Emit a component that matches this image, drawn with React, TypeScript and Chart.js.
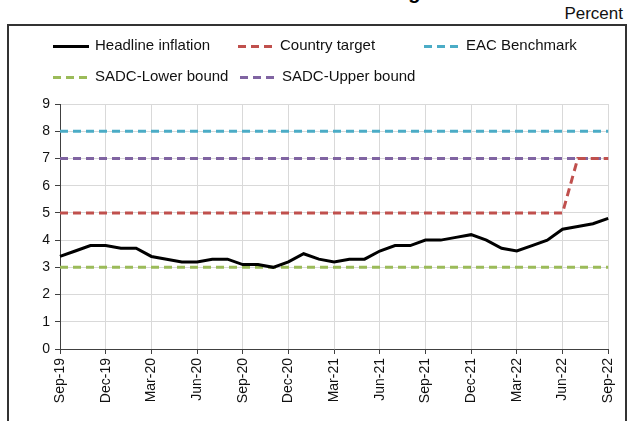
import React, { useEffect, useRef } from "react";
import { Chart, registerables } from "chart.js";

Chart.register(...registerables);

const months = [
  "Sep-19", "Oct-19", "Nov-19", "Dec-19", "Jan-20", "Feb-20", "Mar-20", "Apr-20", "May-20",
  "Jun-20", "Jul-20", "Aug-20", "Sep-20", "Oct-20", "Nov-20", "Dec-20", "Jan-21", "Feb-21",
  "Mar-21", "Apr-21", "May-21", "Jun-21", "Jul-21", "Aug-21", "Sep-21", "Oct-21", "Nov-21",
  "Dec-21", "Jan-22", "Feb-22", "Mar-22", "Apr-22", "May-22", "Jun-22", "Jul-22", "Aug-22", "Sep-22",
];

const headlineInflation = [
  3.4, 3.6, 3.8, 3.8, 3.7, 3.7, 3.4, 3.3, 3.2,
  3.2, 3.3, 3.3, 3.1, 3.1, 3.0, 3.2, 3.5, 3.3,
  3.2, 3.3, 3.3, 3.6, 3.8, 3.8, 4.0, 4.0, 4.1,
  4.2, 4.0, 3.7, 3.6, 3.8, 4.0, 4.4, 4.5, 4.6, 4.8,
];

const countryTarget = [
  5, 5, 5, 5, 5, 5, 5, 5, 5,
  5, 5, 5, 5, 5, 5, 5, 5, 5,
  5, 5, 5, 5, 5, 5, 5, 5, 5,
  5, 5, 5, 5, 5, 5, 5, 7, 7, 7,
];

const eacBenchmark = [
  8, 8, 8, 8, 8, 8, 8, 8, 8,
  8, 8, 8, 8, 8, 8, 8, 8, 8,
  8, 8, 8, 8, 8, 8, 8, 8, 8,
  8, 8, 8, 8, 8, 8, 8, 8, 8, 8,
];

const sadcLower = [
  3, 3, 3, 3, 3, 3, 3, 3, 3,
  3, 3, 3, 3, 3, 3, 3, 3, 3,
  3, 3, 3, 3, 3, 3, 3, 3, 3,
  3, 3, 3, 3, 3, 3, 3, 3, 3, 3,
];

const sadcUpper = [
  7, 7, 7, 7, 7, 7, 7, 7, 7,
  7, 7, 7, 7, 7, 7, 7, 7, 7,
  7, 7, 7, 7, 7, 7, 7, 7, 7,
  7, 7, 7, 7, 7, 7, 7, 7, 7, 7,
];

const seriesNames = [
  "Headline inflation",
  "Country target",
  "EAC Benchmark",
  "SADC-Lower bound",
  "SADC-Upper bound",
];

const yMin = 0;
const yMax = 9;

const FONT = "'Liberation Sans', Arial, Helvetica, sans-serif";

// Legend slots (grid layout like the original)
const legendSlots = [
  { x: 53, y: 46 },
  { x: 238, y: 46 },
  { x: 424, y: 46 },
  { x: 53, y: 77 },
  { x: 240, y: 77 },
];

const gridLegendPlugin = {
  id: "gridLegend",
  afterDraw(chart: any) {
    const ctx = chart.ctx;
    ctx.save();
    chart.data.datasets.forEach((ds: any, i: number) => {
      const slot = legendSlots[i];
      if (!slot) return;
      ctx.beginPath();
      ctx.lineWidth = ds.borderWidth;
      ctx.strokeStyle = ds.borderColor;
      ctx.setLineDash(ds.borderDash || []);
      ctx.lineCap = "butt";
      ctx.moveTo(slot.x, slot.y + 0.5);
      ctx.lineTo(slot.x + 36, slot.y + 0.5);
      ctx.stroke();
      ctx.setLineDash([]);
      ctx.fillStyle = "#111";
      ctx.font = `15px ${FONT}`;
      ctx.textBaseline = "middle";
      ctx.textAlign = "left";
      ctx.fillText(ds.label, slot.x + 42, slot.y);
    });
    ctx.restore();
  },
};

export default function App() {
  const canvasRef = useRef<HTMLCanvasElement | null>(null);

  useEffect(() => {
    if (!canvasRef.current) return;
    const dash = [8, 5];
    const chart = new Chart(canvasRef.current, {
      type: "line",
      data: {
        labels: months,
        datasets: [
          { label: seriesNames[0], data: headlineInflation, borderColor: "#000000", borderWidth: 3, borderDash: [] },
          { label: seriesNames[1], data: countryTarget, borderColor: "#C0504D", borderWidth: 3, borderDash: dash },
          { label: seriesNames[2], data: eacBenchmark, borderColor: "#4BACC6", borderWidth: 3, borderDash: dash },
          { label: seriesNames[3], data: sadcLower, borderColor: "#9BBB59", borderWidth: 3, borderDash: dash },
          { label: seriesNames[4], data: sadcUpper, borderColor: "#8064A2", borderWidth: 3, borderDash: dash },
        ].map((d) => ({ ...d, pointRadius: 0, pointHoverRadius: 0, tension: 0, fill: false, backgroundColor: d.borderColor })),
      },
      options: {
        responsive: false,
        animation: false,
        events: [],
        layout: { padding: { top: 104, left: 8, right: 17, bottom: 0 } },
        plugins: {
          legend: { display: false },
          tooltip: { enabled: false },
          title: { display: false },
        },
        scales: {
          x: {
            type: "category",
            offset: false,
            grid: { color: "#d9d9d9", lineWidth: 1, tickLength: 5, tickColor: "#404040", drawTicks: true },
            border: { color: "#404040", width: 1 },
            ticks: {
              autoSkip: false,
              maxRotation: 90,
              minRotation: 90,
              padding: 4,
              color: "#111",
              font: { family: FONT, size: 14 },
              callback: (_v: any, i: number) => (i % 3 === 0 ? months[i] : null),
            },
            afterFit: (s: any) => {
              s.height = 72;
            },
          },
          y: {
            min: yMin,
            max: yMax,
            grid: { color: "#d9d9d9", lineWidth: 1, tickLength: 5, tickColor: "#404040" },
            border: { color: "#404040", width: 1 },
            ticks: {
              stepSize: 1,
              padding: 5,
              color: "#111",
              font: { family: FONT, size: 14 },
            },
            afterFit: (s: any) => {
              s.width = 52;
            },
          },
        },
      },
      plugins: [gridLegendPlugin],
    } as any);
    return () => chart.destroy();
  }, []);

  return (
    <div style={{ position: "absolute", left: 0, top: 0, width: 629, height: 421, overflow: "hidden", background: "#fff" }}>
      <div
        style={{
          position: "absolute",
          left: 5,
          top: -18,
          fontFamily: FONT,
          fontWeight: "bold",
          fontSize: 20,
          lineHeight: "20px",
          whiteSpace: "nowrap",
          color: "#000",
        }}
      >
        Chart 2: Headline Inflation and Inflation targets
      </div>
      <div
        style={{
          position: "absolute",
          right: 6,
          top: 5,
          fontFamily: FONT,
          fontSize: 17,
          lineHeight: "17px",
          color: "#111",
        }}
      >
        Percent
      </div>
      <div
        style={{
          position: "absolute",
          left: 7,
          top: 24,
          width: 620,
          height: 420,
          boxSizing: "border-box",
          border: "2px solid #333",
        }}
      />
      <canvas
        ref={canvasRef}
        width={629}
        height={421}
        style={{ position: "absolute", left: 0, top: 0, width: 629, height: 421 }}
      />
    </div>
  );
}
